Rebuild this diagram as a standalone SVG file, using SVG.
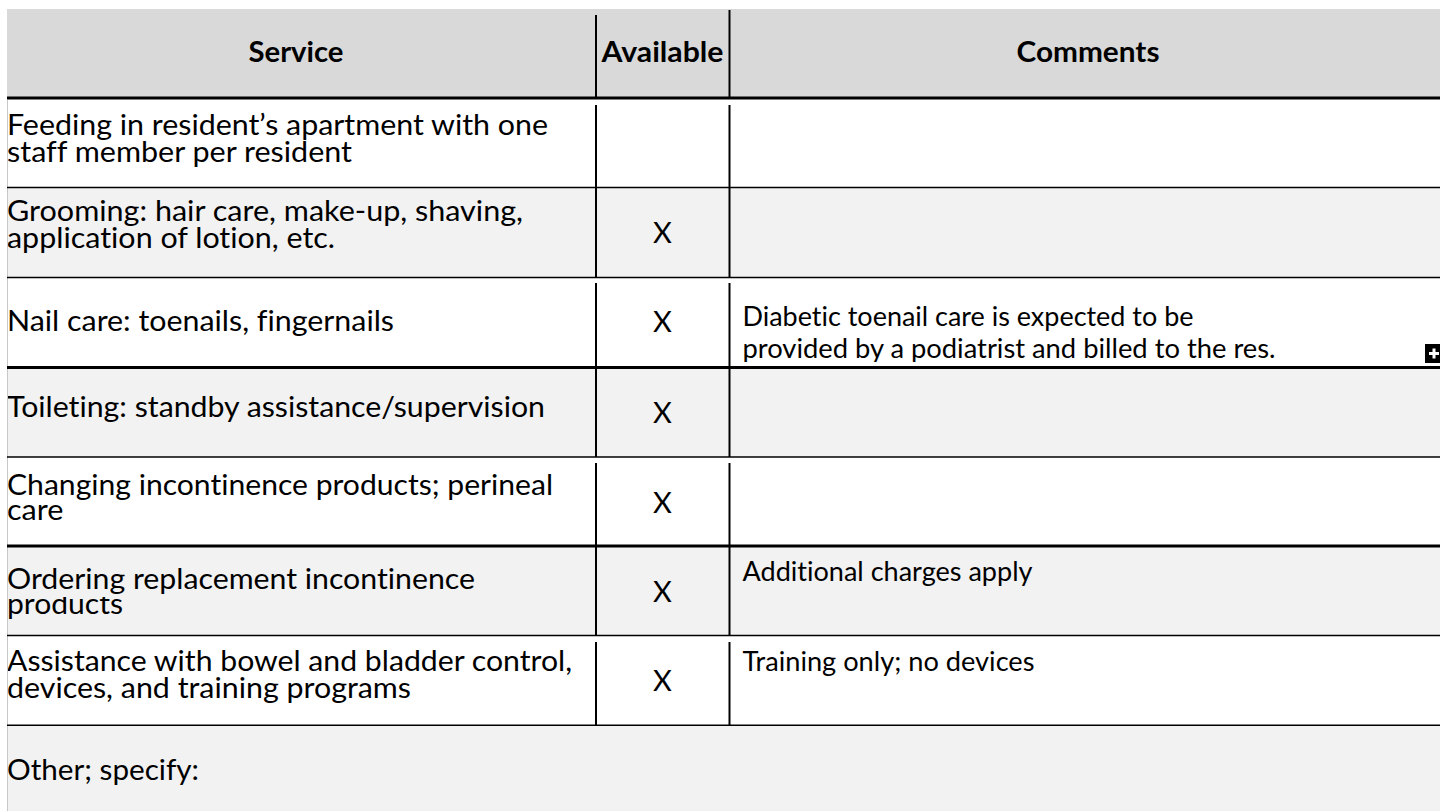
<svg xmlns="http://www.w3.org/2000/svg" width="1440" height="811" viewBox="0 0 1440 811">
<style>
text{font-family:Lato,'Liberation Sans',sans-serif;fill:#000;font-variant-ligatures:none;font-feature-settings:"liga" 0,"clig" 0}
.t{font-size:29px}
.h{font-size:29px;font-weight:bold;text-anchor:middle}
.c{font-size:26px}
.x{font-size:29px;text-anchor:middle}
.thick{stroke:#000;stroke-width:3}
.thin{stroke:#000;stroke-width:1.5}
.v{stroke:#000;stroke-width:2}
.gray{fill:#f2f2f2}
</style>
<defs>
<clipPath id="clip5a"><rect x="0" y="458" width="600" height="43"/></clipPath>
<clipPath id="clip6b"><rect x="0" y="597" width="600" height="38"/></clipPath>
<clipPath id="clip3c"><rect x="731" y="278" width="709" height="84"/></clipPath>
</defs>
<rect x="0" y="0" width="1440" height="811" fill="#fff"/>

<g id="header">
<rect x="7" y="9" width="1433" height="88" fill="#d9d9d9"/>
<text class="h" x="296" y="62" textLength="95" lengthAdjust="spacingAndGlyphs">Service</text>
<text class="h" x="662.5" y="62" textLength="122" lengthAdjust="spacingAndGlyphs">Available</text>
<text class="h" x="1088" y="62" textLength="143" lengthAdjust="spacingAndGlyphs">Comments</text>
</g>

<g id="row1">
<rect x="7" y="99.5" width="1433" height="88" fill="#fff"/>
<text class="t" x="7" y="135" textLength="541" lengthAdjust="spacingAndGlyphs">Feeding in resident’s apartment with one</text>
<text class="t" x="7" y="162" textLength="345" lengthAdjust="spacingAndGlyphs">staff member per resident</text>
</g>

<g id="row2">
<rect class="gray" x="7" y="188" width="1433" height="89.5"/>
<text class="t" x="7" y="221" textLength="516" lengthAdjust="spacingAndGlyphs">Grooming: hair care, make-up, shaving,</text>
<text class="t" x="7" y="248" textLength="328" lengthAdjust="spacingAndGlyphs">application of lotion, etc.</text>
<text class="x" x="662.5" y="243">X</text>
</g>

<g id="row3">
<rect x="7" y="278" width="1433" height="89" fill="#fff"/>
<text class="t" x="7" y="331" textLength="387" lengthAdjust="spacingAndGlyphs">Nail care: toenails, fingernails</text>
<text class="x" x="662.5" y="332">X</text>
<g clip-path="url(#clip3c)">
<text class="c" x="742.5" y="326" textLength="451" lengthAdjust="spacingAndGlyphs">Diabetic toenail care is expected to be</text>
<text class="c" x="742.5" y="358" textLength="533" lengthAdjust="spacingAndGlyphs">provided by a podiatrist and billed to the res.</text>
</g>
<rect x="1425" y="344" width="15" height="19" fill="#000"/>
<rect x="1429" y="352" width="10" height="3" fill="#fff"/>
<rect x="1432.5" y="348.5" width="3" height="10" fill="#fff"/>
</g>

<g id="row4">
<rect class="gray" x="7" y="369" width="1433" height="88"/>
<text class="t" x="7" y="417" textLength="538" lengthAdjust="spacingAndGlyphs">Toileting: standby assistance/supervision</text>
<text class="x" x="662.5" y="423">X</text>
</g>

<g id="row5">
<rect x="7" y="457.5" width="1433" height="88" fill="#fff"/>
<text class="t" x="7" y="495" textLength="546" lengthAdjust="spacingAndGlyphs" clip-path="url(#clip5a)">Changing incontinence products; perineal</text>
<text class="t" x="7" y="520" textLength="56.5" lengthAdjust="spacingAndGlyphs">care</text>
<text class="x" x="662.5" y="513">X</text>
</g>

<g id="row6">
<rect class="gray" x="7" y="547" width="1433" height="88.5"/>
<text class="t" x="7" y="589" textLength="468" lengthAdjust="spacingAndGlyphs">Ordering replacement incontinence</text>
<text class="t" x="7" y="614" textLength="116" lengthAdjust="spacingAndGlyphs" clip-path="url(#clip6b)">products</text>
<text class="x" x="662.5" y="602">X</text>
<text class="c" x="742.5" y="581" textLength="290" lengthAdjust="spacingAndGlyphs">Additional charges apply</text>
</g>

<g id="row7">
<rect x="7" y="636" width="1433" height="89" fill="#fff"/>
<text class="t" x="7" y="671" textLength="565" lengthAdjust="spacingAndGlyphs">Assistance with bowel and bladder control,</text>
<text class="t" x="7" y="698" textLength="404" lengthAdjust="spacingAndGlyphs">devices, and training programs</text>
<text class="x" x="662.5" y="691">X</text>
<text class="c" x="742.5" y="671" textLength="292" lengthAdjust="spacingAndGlyphs">Training only; no devices</text>
</g>

<g id="row8">
<rect class="gray" x="7" y="726" width="1433" height="85"/>
<text class="t" x="7" y="780" textLength="192" lengthAdjust="spacingAndGlyphs">Other; specify:</text>
</g>

<g id="connectors">
<line x1="7.5" y1="100" x2="7.5" y2="811" stroke="#c8c8c8" stroke-width="1"/>
<line class="thick" x1="7" y1="98" x2="1440" y2="98"/>
<line class="thin" x1="7" y1="187.5" x2="1440" y2="187.5"/>
<line class="thin" x1="7" y1="277.5" x2="1440" y2="277.5"/>
<line class="thick" x1="7" y1="367.5" x2="1440" y2="367.5"/>
<line class="thin" x1="7" y1="457" x2="1440" y2="457"/>
<line class="thick" x1="7" y1="546" x2="1440" y2="546"/>
<line class="thin" x1="7" y1="635.5" x2="1440" y2="635.5"/>
<line class="thin" x1="7" y1="725.3" x2="1440" y2="725.3"/>
<line class="v" x1="596" y1="15" x2="596" y2="97"/>
<line class="v" x1="729.5" y1="10" x2="729.5" y2="97"/>
<line class="v" x1="596" y1="105" x2="596" y2="187"/>
<line class="v" x1="729.5" y1="105" x2="729.5" y2="187"/>
<line class="v" x1="596" y1="188" x2="596" y2="277"/>
<line class="v" x1="729.5" y1="188" x2="729.5" y2="277"/>
<line class="v" x1="596" y1="283" x2="596" y2="366"/>
<line class="v" x1="729.5" y1="283" x2="729.5" y2="366"/>
<line class="v" x1="596" y1="369" x2="596" y2="457"/>
<line class="v" x1="729.5" y1="369" x2="729.5" y2="457"/>
<line class="v" x1="596" y1="463" x2="596" y2="545"/>
<line class="v" x1="729.5" y1="463" x2="729.5" y2="545"/>
<line class="v" x1="596" y1="547" x2="596" y2="635"/>
<line class="v" x1="729.5" y1="547" x2="729.5" y2="635"/>
<line class="v" x1="596" y1="642" x2="596" y2="725"/>
<line class="v" x1="729.5" y1="642" x2="729.5" y2="725"/>
</g>
</svg>
